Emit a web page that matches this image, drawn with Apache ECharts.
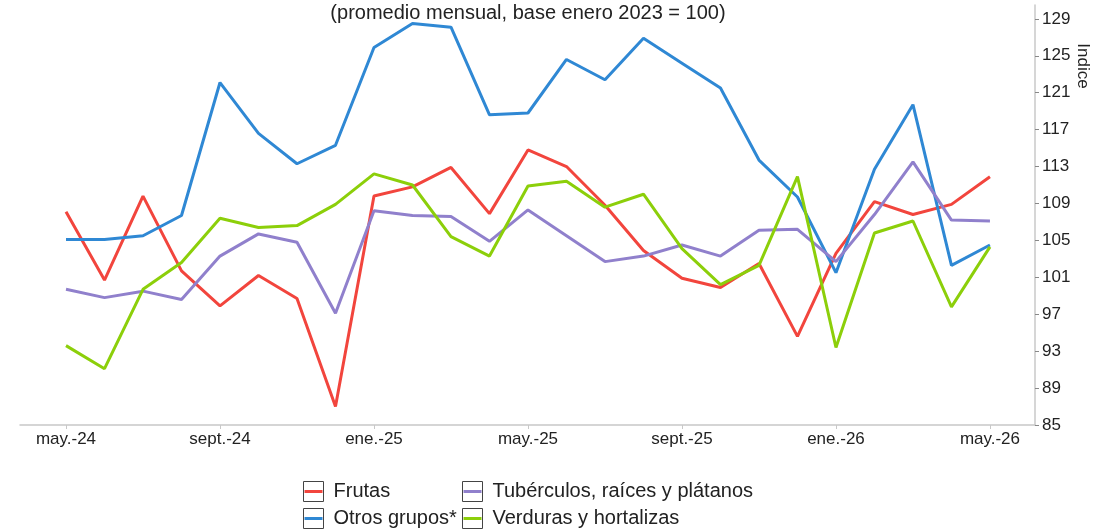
<!DOCTYPE html>
<html>
<head>
<meta charset="utf-8">
<title>Indice de precios</title>
<script src="https://cdn.jsdelivr.net/npm/echarts@6/dist/echarts.min.js"></script>
<style>
    html, body { margin: 0; padding: 0; background: #fff; }
    .grafico { width: 1115px; height: 532px; }
</style>
</head>
<body>
<div class="grafico"></div>
<script>
// meses  (mayo 2024 - mayo 2026)
var meses = ['may.-24', 'jun.-24', 'jul.-24', 'ago.-24', 'sept.-24', 'oct.-24', 'nov.-24', 'dic.-24',
    'ene.-25', 'feb.-25', 'mar.-25', 'abr.-25', 'may.-25', 'jun.-25', 'jul.-25', 'ago.-25',
    'sept.-25', 'oct.-25', 'nov.-25', 'dic.-25', 'ene.-26', 'feb.-26', 'mar.-26', 'abr.-26', 'may.-26']

var frutas = [108.1, 100.7, 109.8, 101.7, 97.9, 101.2, 98.7, 87.0, 109.8, 110.8, 112.9, 107.9, 114.8,
    113.0, 108.8, 103.9, 100.9, 99.9, 102.5, 94.6, 103.6, 109.2, 107.8, 108.9, 111.9]
var otrosGrupos = [105.1, 105.1, 105.5, 107.7, 122.1, 116.6, 113.3, 115.3, 125.9, 128.5, 128.1, 118.6, 118.8,
    124.6, 122.4, 126.9, 124.2, 121.5, 113.7, 109.7, 101.5, 112.7, 119.7, 102.3, 104.5]
var tuberculos = [99.7, 98.8, 99.5, 98.6, 103.3, 105.7, 104.8, 97.1, 108.2, 107.7, 107.6, 104.9, 108.3,
    105.5, 102.7, 103.3, 104.5, 103.3, 106.1, 106.2, 102.7, 107.8, 113.5, 107.2, 107.1]
var verduras = [93.6, 91.1, 99.7, 102.6, 107.4, 106.4, 106.6, 108.9, 112.2, 111.0, 105.4, 103.3, 110.9,
    111.4, 108.6, 110.0, 104.1, 100.2, 102.3, 111.9, 93.4, 105.8, 107.1, 97.8, 104.3]

// marcas de los ejes
var marcasX = [0, 4, 8, 12, 16, 20, 24]
var marcasY = [85, 89, 93, 97, 101, 105, 109, 113, 117, 121, 125, 129]

var fuente = 'Liberation Sans, Arial, sans-serif'

function puntos(valores) {
    return valores.map(function (v, i) { return [i, v] })
}

function serie(nombre, valores, color) {
    return {
        name: nombre,
        type: 'line',
        data: puntos(valores),
        symbol: 'rect',
        showSymbol: false,
        color: color,
        lineStyle: { width: 3, color: color },
        emphasis: { disabled: true }
    }
}

(function () {
    var myChart = echarts.init(document.getElementsByClassName('grafico')[0])

    var leyenda = {
        orient: 'vertical',
        top: 481,
        padding: 0,
        itemWidth: 18,
        itemHeight: 25,
        itemGap: 6,
        itemStyle: { color: 'rgba(0,0,0,0)', borderColor: '#444', borderWidth: 1 },
        lineStyle: { width: 3 },
        textStyle: { fontFamily: fuente, fontSize: 20, color: '#222', padding: [0, 0, 0, 6] },
        selectedMode: false
    }

    var option = {
        animation: false,
        textStyle: { fontFamily: fuente },
        title: {
            text: '(promedio mensual, base enero 2023 = 100)',
            left: 523,
            top: -2,
            textAlign: 'center',
            textStyle: { fontFamily: fuente, fontSize: 20, fontWeight: 'normal', color: '#222' }
        },
        legend: [
            Object.assign({}, leyenda, { left: 303, data: ['Frutas', 'Otros grupos*'] }),
            Object.assign({}, leyenda, { left: 462, data: ['Tubérculos, raíces y plátanos', 'Verduras y hortalizas'] })
        ],
        grid: { left: 20, right: 80, top: 5, bottom: 107 },
        xAxis: {
            type: 'value',
            min: -1.195,
            max: 25.17,
            splitLine: { show: false },
            axisLine: { show: true, onZero: false, lineStyle: { color: '#c8c8c8', width: 1.5 } },
            axisTick: { show: true, length: 4, customValues: marcasX, lineStyle: { color: '#c8c8c8' } },
            axisLabel: {
                customValues: marcasX,
                margin: 6,
                fontSize: 17,
                color: '#222',
                formatter: function (v) { return meses[v] }
            }
        },
        yAxis: {
            type: 'value',
            position: 'right',
            min: 85,
            max: 130.5,
            splitLine: { show: false },
            axisLine: { show: true, onZero: false, lineStyle: { color: '#c8c8c8', width: 1.5 } },
            axisTick: { show: true, length: 4, customValues: marcasY, lineStyle: { color: '#888' } },
            axisLabel: { customValues: marcasY, margin: 7, fontSize: 17, color: '#222' }
        },
        graphic: [{
            type: 'text',
            x: 1083,
            y: 66,
            rotation: -Math.PI / 2,
            style: {
                text: 'Indice',
                font: '17px ' + fuente,
                fill: '#222',
                align: 'center',
                verticalAlign: 'middle'
            }
        }],
        series: [
            serie('Frutas', frutas, '#f2453d'),
            serie('Otros grupos*', otrosGrupos, '#2f88d4'),
            serie('Tubérculos, raíces y plátanos', tuberculos, '#9080cc'),
            serie('Verduras y hortalizas', verduras, '#8ccf0a')
        ]
    }
    myChart.setOption(option)
    window.addEventListener('resize', function () {
        myChart.resize()
    })
}())
</script>
</body>
</html>
